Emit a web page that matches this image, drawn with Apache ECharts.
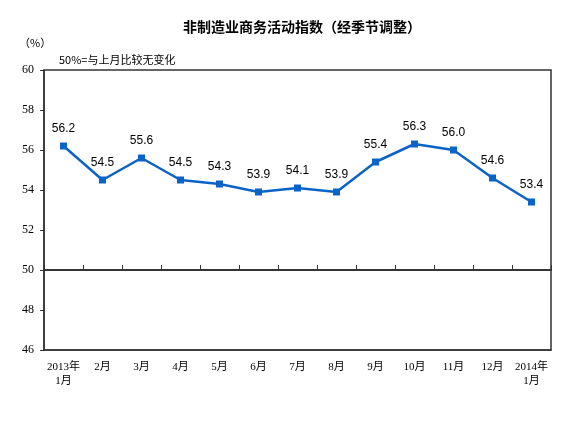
<!DOCTYPE html>
<html>
<head>
<meta charset="utf-8">
<script src="https://cdn.jsdelivr.net/npm/echarts@6/dist/echarts.min.js"></script>
<style>
  html, body { margin: 0; padding: 0; background: #fff; }
  #main { width: 567px; height: 428px; }
</style>
</head>
<body>
<div id="main"></div>
<script>
var months = ['2013年\n1月', '2月', '3月', '4月', '5月', '6月', '7月', '8月', '9月', '10月', '11月', '12月', '2014年\n1月'];
var index = [56.2, 54.5, 55.6, 54.5, 54.3, 53.9, 54.1, 53.9, 55.4, 56.3, 56.0, 54.6, 53.4];
var upperRange = [50, 60];
var lowerRange = [46, 50];

var chartDom = document.getElementById('main');
var myChart = echarts.init(chartDom);
var option;

var axisColor = '#333';
var numFont = '"Liberation Serif", "Noto Sans CJK SC", serif';
var cjkFont = '"Noto Sans CJK SC", sans-serif';

option = {
    backgroundColor: '#fff',
    animation: false,
    title: [
        {
            text: '非制造业商务活动指数（经季节调整）',
            left: 297,
            top: 15,
            textAlign: 'center',
            textStyle: { fontSize: 14, fontWeight: 'bold', color: '#000', fontFamily: cjkFont }
        },
        {
            text: '（%）',
            left: 14,
            top: 32,
            textStyle: { fontSize: 11, fontWeight: 'normal', color: '#000', fontFamily: cjkFont }
        },
        {
            text: '50%=与上月比较无变化',
            left: 54,
            top: 49,
            textStyle: { fontSize: 11, fontWeight: 'normal', color: '#000', fontFamily: cjkFont }
        }
    ],
    // upper part (50-60) carries the line, lower part (46-50) the month labels
    grid: [
        { left: 44, right: 16, top: 70, height: 200, show: true, borderColor: axisColor, borderWidth: 1.5 },
        { left: 44, right: 16, top: 270, height: 80, show: true, borderColor: axisColor, borderWidth: 1.5 }
    ],
    xAxis: [
        {
            type: 'category',
            gridIndex: 0,
            data: months,
            boundaryGap: true,
            z: 10,
            axisLine: { show: true, lineStyle: { color: axisColor, width: 1.5 } },
            axisTick: { show: true, inside: true, length: 5, interval: 0, lineStyle: { color: axisColor, width: 1 } },
            axisLabel: { show: false }
        },
        {
            type: 'category',
            gridIndex: 1,
            data: months,
            boundaryGap: true,
            axisLine: { lineStyle: { color: axisColor, width: 1.5 } },
            axisTick: { show: false },
            axisLabel: {
                color: '#000',
                fontSize: 11,
                fontFamily: numFont,
                lineHeight: 14,
                margin: 10,
                interval: 0
            }
        }
    ],
    yAxis: [
        {
            type: 'value',
            gridIndex: 0,
            min: upperRange[0],
            max: upperRange[1],
            interval: 2,
            splitLine: { show: false },
            axisLine: { show: true, lineStyle: { color: axisColor, width: 1.5 } },
            axisTick: { show: true, length: 4, lineStyle: { color: axisColor } },
            axisLabel: { color: '#000', fontSize: 12, fontFamily: numFont, margin: 10 }
        },
        {
            type: 'value',
            gridIndex: 1,
            min: lowerRange[0],
            max: lowerRange[1],
            interval: 2,
            splitLine: { show: false },
            axisLine: { show: true, lineStyle: { color: axisColor, width: 1.5 } },
            axisTick: { show: true, length: 4, lineStyle: { color: axisColor } },
            axisLabel: { color: '#000', fontSize: 12, fontFamily: numFont, margin: 10, showMaxLabel: false }
        }
    ],
    series: [
        {
            name: '非制造业商务活动指数',
            type: 'line',
            xAxisIndex: 0,
            yAxisIndex: 0,
            data: index,
            symbol: 'rect',
            symbolSize: 7,
            lineStyle: { color: '#0A64C8', width: 2.5 },
            itemStyle: { color: '#0A64C8' },
            label: {
                show: true,
                position: 'top',
                distance: 8,
                color: '#000',
                fontSize: 12,
                fontFamily: '"Liberation Sans", Arial, sans-serif',
                formatter: function (p) { return p.value.toFixed(1); }
            }
        }
    ]
};

option && myChart.setOption(option);
</script>
</body>
</html>
